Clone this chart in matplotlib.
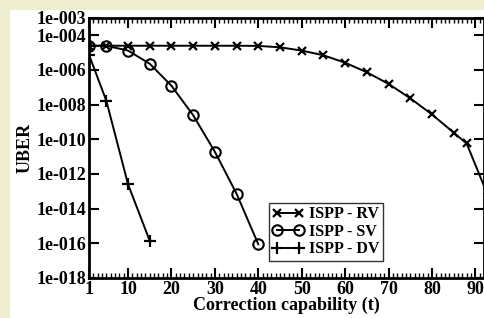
import matplotlib
matplotlib.use("Agg")
import matplotlib.pyplot as plt
import matplotlib.patches as patches
from matplotlib.ticker import FixedLocator, MultipleLocator

# data (log10 of UBER)
t_rv = [1, 5, 10, 15, 20, 25, 30, 35, 40, 45, 50, 55, 60, 65, 70, 75, 80, 85, 88, 93]
e_rv = [-4.6, -4.6, -4.6, -4.6, -4.6, -4.6, -4.6, -4.6, -4.61, -4.69, -4.88, -5.15,
        -5.58, -6.13, -6.80, -7.63, -8.56, -9.61, -10.24, -13.3]
t_sv = [1, 5, 10, 15, 20, 25, 30, 35, 40]
e_sv = [-4.6, -4.6, -4.88, -5.64, -6.91, -8.61, -10.72, -13.14, -16.05]
t_dv = [1, 5, 10, 15]
e_dv = [-5.12, -7.78, -12.6, -15.86]

labels = ["ISPP - RV", "ISPP - SV", "ISPP - DV"]
xticks = [1, 10, 20, 30, 40, 50, 60, 70, 80, 90]
yticks = [1e-3, 1e-4, 1e-6, 1e-8, 1e-10, 1e-12, 1e-14, 1e-16, 1e-18]
ytick_labels = ["1e-003", "1e-004", "1e-006", "1e-008", "1e-010",
                "1e-012", "1e-014", "1e-016", "1e-018"]

plt.rcParams['font.family'] = ['Liberation Serif', 'DejaVu Serif']
plt.rcParams['font.weight'] = 'bold'

fig = plt.figure(figsize=(4.84, 3.18), dpi=100)
fig.patch.set_facecolor('#eeedd0')
fig.patches.append(patches.Rectangle((10 / 484, 0), 1, 308 / 318, transform=fig.transFigure,
                                     facecolor='white', edgecolor='none', zorder=-10))

ax = fig.add_axes([89 / 484, 40 / 318, 395 / 484, 260 / 318])
ax.set_zorder(1)

ax.plot(t_rv, [10 ** e for e in e_rv], color='black', lw=1.4, marker='x', ms=6, mew=1.6,
        label=labels[0])
ax.plot(t_sv, [10 ** e for e in e_sv], color='black', lw=1.4, marker='o', ms=7.5, mew=1.5,
        mfc='none', label=labels[1])
ax.plot(t_dv, [10 ** e for e in e_dv], color='black', lw=1.4, marker='+', ms=8, mew=1.6,
        label=labels[2])

ax.set_yscale('log')
ax.set_xlim(1, 92)
ax.set_ylim(1e-18, 1e-3)

ax.xaxis.set_major_locator(FixedLocator(xticks))
ax.set_xticklabels([str(v) for v in xticks])
ax.xaxis.set_minor_locator(MultipleLocator(1))
ax.yaxis.set_major_locator(FixedLocator(yticks))
ax.set_yticklabels(ytick_labels)
ax.yaxis.set_minor_locator(FixedLocator([]))

ax.tick_params(which='both', direction='in', top=True, right=True, labelsize=13, width=1.5)
ax.tick_params(which='major', length=7, pad=2)
ax.tick_params(which='minor', length=3.5, width=1)
for lab in ax.get_xticklabels() + ax.get_yticklabels():
    lab.set_fontweight('bold')
for sp in ax.spines.values():
    sp.set_linewidth(2)

ax.set_xlabel("Correction capability (t)", fontsize=13, fontweight='bold', labelpad=-1)
ax.set_ylabel("UBER", fontsize=13, fontweight='bold', labelpad=2)

leg = ax.legend(loc='upper left', bbox_to_anchor=(180 / 395, 1 - 185 / 260), numpoints=2,
                fontsize=11.5, handlelength=2.0, handletextpad=0.3, borderpad=0.2,
                labelspacing=0.1, borderaxespad=0, fancybox=False, frameon=True)
leg.get_frame().set_edgecolor('black')
leg.get_frame().set_linewidth(1)
for txt in leg.get_texts():
    txt.set_fontweight('bold')

fig.savefig('out.png', dpi=100, facecolor=fig.get_facecolor())
